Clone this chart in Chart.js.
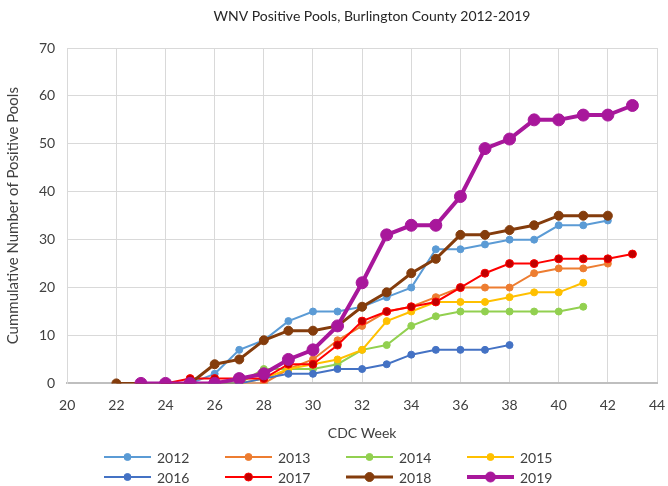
<!DOCTYPE html>
<html>
<head>
<meta charset="utf-8">
<script src="https://cdn.jsdelivr.net/npm/chart.js@4.4.1/dist/chart.umd.min.js"></script>
<style>
  html, body { margin: 0; padding: 0; background: #fff; }
  #wrap { width: 668px; height: 486px; }
</style>
</head>
<body>
<div id="wrap"><canvas id="chart"></canvas></div>
<script>
// CDC weeks 22..43, null where a season has no value
var weeks = [22, 23, 24, 25, 26, 27, 28, 29, 30, 31, 32, 33, 34, 35, 36, 37, 38, 39, 40, 41, 42, 43];

var y2012 = [null, 0, 0, 0, 2, 7, 9, 13, 15, 15, 16, 18, 20, 28, 28, 29, 30, 30, 33, 33, 34, null];
var y2013 = [null, null, 0, 0, 0, 0, 0, 3, 5, 9, 12, 15, 16, 18, 20, 20, 20, 23, 24, 24, 25, null];
var y2014 = [null, null, 0, 0, 0, 0, 3, 3, 3, 4, 7, 8, 12, 14, 15, 15, 15, 15, 15, 16, null, null];
var y2015 = [null, null, 0, 0, 0, 0, 1, 3, 4, 5, 7, 13, 15, 17, 17, 17, 18, 19, 19, 21, null, null];
var y2016 = [null, null, 0, 0, 0, 0, 1, 2, 2, 3, 3, 4, 6, 7, 7, 7, 8, null, null, null, null, null];
var y2017 = [null, null, 0, 1, 1, 1, 1, 4, 4, 8, 13, 15, 16, 17, 20, 23, 25, 25, 26, 26, 26, 27];
var y2018 = [0, 0, 0, 0, 4, 5, 9, 11, 11, 12, 16, 19, 23, 26, 31, 31, 32, 33, 35, 35, 35, null];
var y2019 = [null, 0, 0, 0, 0, 1, 2, 5, 7, 12, 21, 31, 33, 33, 39, 49, 51, 55, 55, 56, 56, 58];

var xTicks = [20, 22, 24, 26, 28, 30, 32, 34, 36, 38, 40, 42, 44];
var yTicks = [0, 10, 20, 30, 40, 50, 60, 70];

var chartTitle = 'WNV Positive Pools, Burlington County 2012-2019';

function pts(vals) {
    var out = [];
    for (var i = 0; i < weeks.length; i++) {
        if (vals[i] !== null) out.push({ x: weeks[i], y: vals[i] });
    }
    return out;
}

function series(label, vals, color, opts) {
    opts = opts || {};
    return {
        label: label,
        data: pts(vals),
        borderColor: color,
        backgroundColor: color,
        pointBackgroundColor: opts.fill || color,
        pointBorderColor: color,
        pointBorderWidth: 1,
        borderWidth: opts.width || 2,
        pointRadius: opts.radius || 3.5,
        pointHoverRadius: opts.radius || 3.5,
        order: opts.order
    };
}

var datasets = [
    series('2012', y2012, '#5B9BD5', { order: 7 }),
    series('2013', y2013, '#ED7D31', { order: 6 }),
    series('2014', y2014, '#92D050', { order: 5 }),
    series('2015', y2015, '#FFC000', { order: 4 }),
    series('2016', y2016, '#4472C4', { order: 3 }),
    series('2017', y2017, '#FF0000', { order: 2, fill: '#C00000', radius: 4 }),
    series('2018', y2018, '#843C0C', { order: 1, width: 3, radius: 4.5 }),
    series('2019', y2019, '#A8179B', { order: 0, width: 4, radius: 6 })
];

// title sits a bit right of centre like the excel original, legend is 4 columns x 2 rows
var decor = {
    id: 'decor',
    afterDraw: function (chart) {
        var ctx = chart.ctx;
        var ds = chart.data.datasets;
        ctx.save();
        ctx.font = '14px Lato';
        ctx.fillStyle = '#262626';
        ctx.textAlign = 'center';
        ctx.textBaseline = 'middle';
        ctx.fillText(chartTitle, 372, 16);

        ctx.textAlign = 'left';
        for (var i = 0; i < ds.length; i++) {
            var col = i % 4, row = Math.floor(i / 4);
            var x = 104 + col * 121;
            var y = 457 + row * 20;
            ctx.strokeStyle = ds[i].borderColor;
            ctx.lineWidth = ds[i].borderWidth;
            ctx.beginPath();
            ctx.moveTo(x, y);
            ctx.lineTo(x + 47, y);
            ctx.stroke();
            ctx.beginPath();
            ctx.arc(x + 23.5, y, Math.min(ds[i].pointRadius, 5), 0, Math.PI * 2);
            ctx.fillStyle = ds[i].pointBackgroundColor;
            ctx.fill();
            ctx.lineWidth = 1;
            ctx.stroke();
            ctx.fillStyle = '#404040';
            ctx.fillText(ds[i].label, x + 53, y + 1);
        }
        ctx.restore();
    }
};

new Chart(document.getElementById('chart'), {
    type: 'line',
    data: { datasets: datasets },
    plugins: [decor],
    options: {
        responsive: true,
        maintainAspectRatio: false,
        animation: false,
        layout: { padding: { left: 4, right: 11, top: 48, bottom: 40 } },
        plugins: {
            legend: { display: false },
            tooltip: { enabled: false },
            title: { display: false }
        },
        scales: {
            x: {
                type: 'linear',
                min: 20,
                max: 44,
                afterBuildTicks: function (axis) {
                    axis.ticks = xTicks.map(function (v) { return { value: v }; });
                },
                afterFit: function (axis) {
                    axis.paddingLeft = 0;
                    axis.paddingRight = 0;
                },
                grid: { color: '#D9D9D9', drawTicks: false },
                border: { color: '#BFBFBF', width: 2 },
                ticks: { color: '#404040', font: { family: 'Lato', size: 14 }, padding: 14, maxRotation: 0 },
                title: { display: true, text: 'CDC Week', color: '#404040', font: { family: 'Lato', size: 14 }, padding: { top: -3, bottom: 4 } }
            },
            y: {
                min: 0,
                max: 70,
                afterBuildTicks: function (axis) {
                    axis.ticks = yTicks.map(function (v) { return { value: v }; });
                },
                afterFit: function (axis) {
                    axis.paddingTop = 0;
                },
                grid: { color: '#D9D9D9', drawTicks: false },
                border: { color: '#D9D9D9' },
                ticks: { color: '#404040', font: { family: 'Lato', size: 14 }, padding: 12 },
                title: { display: true, text: 'Cummulative Number of Positive Pools', color: '#404040', font: { family: 'Lato', size: 15 }, padding: { top: 0, bottom: 5 } }
            }
        }
    }
});
</script>
</body>
</html>
